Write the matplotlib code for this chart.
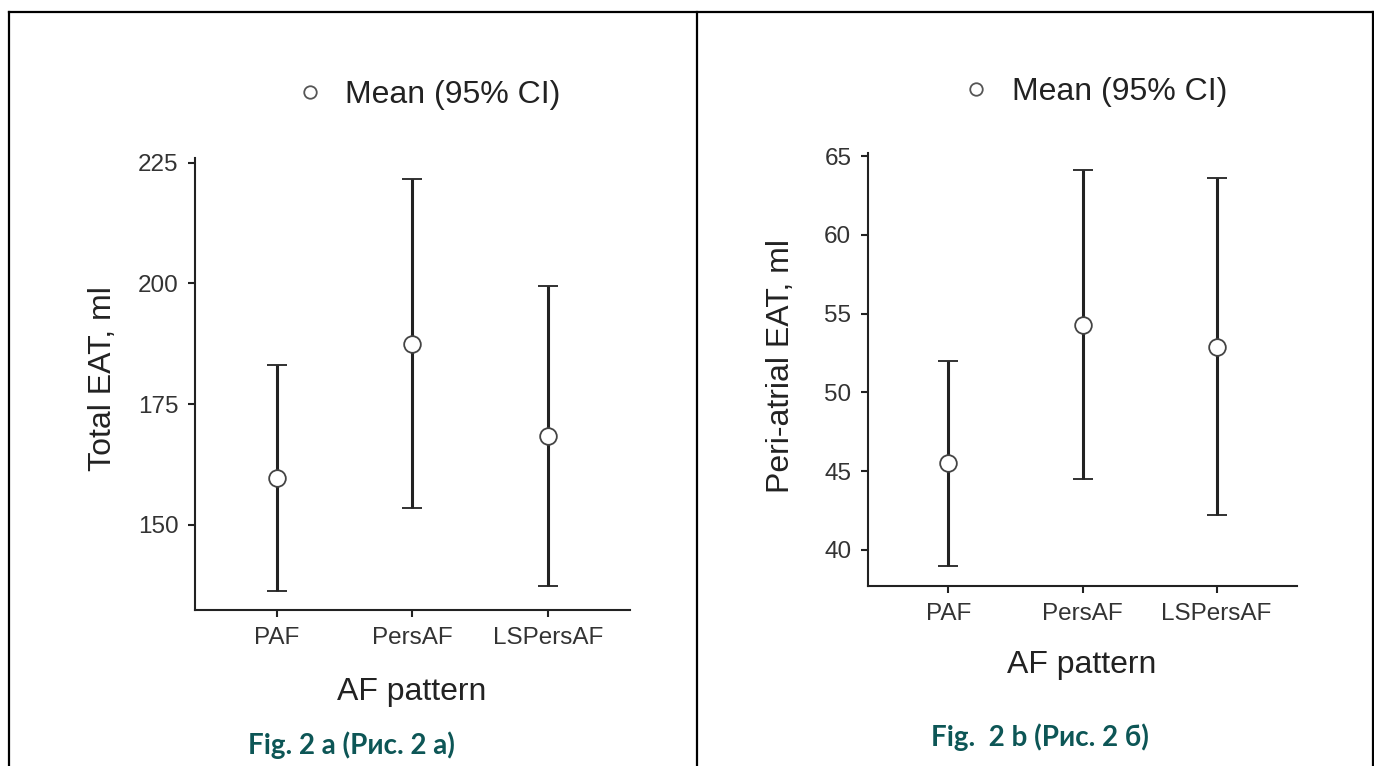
import matplotlib
matplotlib.use("Agg")
import matplotlib.pyplot as plt
from matplotlib.lines import Line2D

# data
groups = ["PAF", "PersAF", "LSPersAF"]

total_mean = [159.6, 187.5, 168.3]
total_lo = [136.3, 153.4, 137.3]
total_hi = [183.1, 221.7, 199.4]

peri_mean = [45.5, 54.3, 52.9]
peri_lo = [39.0, 44.5, 42.2]
peri_hi = [52.0, 64.1, 63.6]

total_ticks = [150, 175, 200, 225]
peri_ticks = [40, 45, 50, 55, 60, 65]

plt.rcParams["font.family"] = ["Liberation Sans", "DejaVu Sans"]

INK = "#222222"
TEAL = "#0d5656"

fig = plt.figure(figsize=(13.74, 7.66), dpi=100)
fig.patch.set_facecolor("white")


def panel(rect, mean, lo, hi, ticks, ylim, ylabel, ylab_xy, xlab_xy, leg_xy):
    ax = fig.add_axes(rect)
    x = list(range(len(groups)))
    err = [[m - l for m, l in zip(mean, lo)], [h - m for m, h in zip(mean, hi)]]
    ax.errorbar(x, mean, yerr=err, fmt="o", color=INK, ecolor=INK,
                elinewidth=2.2, capsize=7, capthick=2.4,
                markersize=12, markerfacecolor="white",
                markeredgecolor="#444444", markeredgewidth=1.3, zorder=3)
    ax.set_xlim(-0.6, 2.6)
    ax.set_ylim(*ylim)
    ax.set_xticks(x)
    ax.set_xticklabels(groups)
    ax.set_yticks(ticks)
    for s in ["top", "right"]:
        ax.spines[s].set_visible(False)
    for s in ["left", "bottom"]:
        ax.spines[s].set_linewidth(1.5)
        ax.spines[s].set_color(INK)
    ax.tick_params(axis="both", length=5, width=1.5, color=INK,
                   labelsize=17.5, labelcolor="#333333", pad=7)
    ax.set_ylabel(ylabel, fontsize=23, color="#222222")
    ax.yaxis.set_label_coords(*ylab_xy)
    ax.yaxis.label.set_verticalalignment("center")
    ax.set_xlabel("AF pattern", fontsize=23, color="#222222")
    ax.xaxis.set_label_coords(*xlab_xy)
    ax.xaxis.label.set_verticalalignment("center")

    handle = Line2D([], [], marker="o", linestyle="none", markersize=9,
                    markerfacecolor="white", markeredgecolor="#555555",
                    markeredgewidth=1.3)
    fig.legend([handle], ["Mean (95% CI)"], loc="center",
               bbox_to_anchor=leg_xy, frameon=False, fontsize=23,
               handlelength=1.0, handletextpad=0.6, labelcolor="#222222")
    return ax


panel([0.1419, 0.2037, 0.3166, 0.5900], total_mean, total_lo, total_hi,
      total_ticks, (132.3, 226.0), "Total EAT, ml",
      (-0.211, 0.513), (0.499, -0.181), (0.311, 0.876))

panel([0.6317, 0.2350, 0.3123, 0.5653], peri_mean, peri_lo, peri_hi,
      peri_ticks, (37.7, 65.2), "Peri-atrial EAT, ml",
      (-0.203, 0.508), (0.497, -0.182), (0.796, 0.880))

# captions
fig.text(0.2555, 1 - 745 / 766, "Fig. 2 a (Рис. 2 а)", ha="center", va="center",
         fontsize=20, fontweight="bold", color=TEAL, family=["Lato", "DejaVu Sans"])
fig.text(0.7570, 1 - 737 / 766, "Fig.  2 b (Рис. 2 б)", ha="center", va="center",
         fontsize=20, fontweight="bold", color=TEAL, family=["Lato", "DejaVu Sans"])

# table borders
top = 1 - 12 / 766
for xx in [8.5 / 1374, 697 / 1374, 1372.5 / 1374]:
    fig.add_artist(Line2D([xx, xx], [0, top], transform=fig.transFigure,
                          color="black", linewidth=1.6))
fig.add_artist(Line2D([8.5 / 1374, 1372.5 / 1374], [top, top],
                      transform=fig.transFigure, color="black", linewidth=1.6))

fig.savefig("out.png", dpi=100)
